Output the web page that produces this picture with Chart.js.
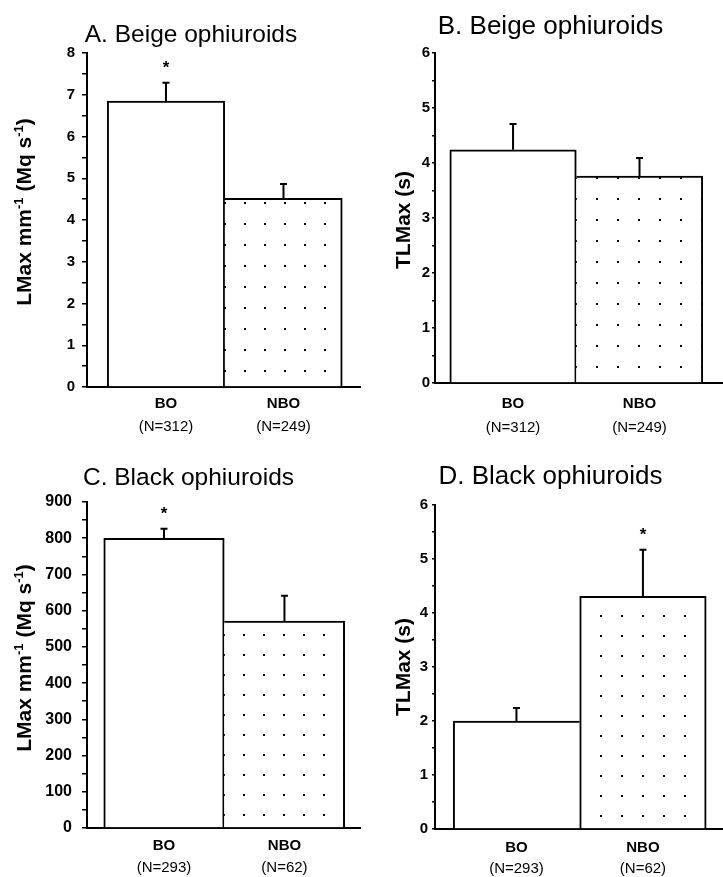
<!DOCTYPE html>
<html>
<head>
<meta charset="utf-8">
<script src="https://cdn.jsdelivr.net/npm/chart.js@4.4.1/dist/chart.umd.min.js"></script>
<style>
html,body{margin:0;padding:0;background:#fff;}
#wrap{position:relative;width:723px;height:877px;overflow:hidden;background:#fff;}
canvas{position:absolute;left:0;top:0;}
</style>
</head>
<body>
<div id="wrap">
<canvas id="cA" width="723" height="877"></canvas>
<canvas id="cB" width="723" height="877"></canvas>
<canvas id="cC" width="723" height="877"></canvas>
<canvas id="cD" width="723" height="877"></canvas>
</div>
<script>
// ---------------- DATA ----------------
const categories = ['BO', 'NBO'];

const sampleSizesA = ['(N=312)', '(N=249)'];
const sampleSizesB = ['(N=312)', '(N=249)'];
const sampleSizesC = ['(N=293)', '(N=62)'];
const sampleSizesD = ['(N=293)', '(N=62)'];

const valuesA = [6.85, 4.52];
const errorsA = [0.44, 0.34];
const starsA  = [true, false];

const valuesB = [4.24, 3.76];
const errorsB = [0.47, 0.33];
const starsB  = [false, false];

const valuesC = [800, 571];
const errorsC = [26, 70];
const starsC  = [true, false];

const valuesD = [2.0, 4.31];
const errorsD = [0.24, 0.86];
const starsD  = [false, true];

const yTicksA = [0, 1, 2, 3, 4, 5, 6, 7, 8];
const yTicksB = [0, 1, 2, 3, 4, 5, 6];
const yTicksC = [0, 100, 200, 300, 400, 500, 600, 700, 800, 900];
const yTicksD = [0, 1, 2, 3, 4, 5, 6];

const titleA = 'A. Beige ophiuroids';
const titleB = 'B. Beige ophiuroids';
const titleC = 'C. Black ophiuroids';
const titleD = 'D. Black ophiuroids';

// y-axis titles as [text, isSuperscript] segments
const yTitleLMax = [['LMax mm', 0], ['-1', 1], [' (Mq s', 0], ['-1', 1], [')', 0]];
const yTitleTLMax = [['TLMax (s)', 0]];

// ---------------- RENDERING ----------------
const F = "'Liberation Sans', Arial, Helvetica, sans-serif";
Chart.defaults.color = '#000';

function makePattern(ctx, w, h) {
  const t = document.createElement('canvas');
  t.width = w; t.height = h;
  const g = t.getContext('2d');
  g.fillStyle = '#fff'; g.fillRect(0, 0, w, h);
  g.fillStyle = '#000'; g.fillRect(0, 0, 2, 2);
  return ctx.createPattern(t, 'repeat');
}

function makeChart(id, p) {
  const canvas = document.getElementById(id);
  const ctx = canvas.getContext('2d');
  const pattern = makePattern(ctx, p.tileW, p.tileH);
  const yMin = p.yTicks[0];
  const yMax = p.yTicks[p.yTicks.length - 1];
  const yStep = p.yTicks[1] - p.yTicks[0];
  const h1 = 25;
  const h2 = Math.min(30, 877 - p.bottom - h1);

  const annot = {
    id: 'annot',
    beforeDatasetsDraw(chart) {
      const bar = chart.getDatasetMeta(0).data[1];
      const left = Math.round(bar.x - bar.width / 2);
      pattern.setTransform(new DOMMatrix([1, 0, 0, 1, left - 1, Math.round(bar.base - p.rowOff) - 1]));
    },
    afterDatasetsDraw(chart) {
      const c = chart.ctx, ys = chart.scales.y;
      const meta = chart.getDatasetMeta(0);
      c.save();
      c.strokeStyle = '#000'; c.fillStyle = '#000'; c.lineWidth = 2;
      meta.data.forEach((bar, i) => {
        const top = ys.getPixelForValue(p.values[i] + p.errors[i]);
        c.beginPath();
        c.moveTo(bar.x, bar.y); c.lineTo(bar.x, top);
        c.moveTo(bar.x - 3.5, top); c.lineTo(bar.x + 3.5, top);
        c.stroke();
        if (p.stars[i]) {
          c.font = 'bold 17px ' + F;
          c.textAlign = 'center'; c.textBaseline = 'alphabetic';
          c.fillText('*', bar.x, top - 10);
        }
      });
      c.restore();
    },
    afterDraw(chart) {
      const c = chart.ctx;
      c.save();
      c.fillStyle = '#000';
      c.font = p.titleSize + 'px ' + F;
      c.textAlign = 'center'; c.textBaseline = 'alphabetic';
      c.fillText(p.title, p.titleX, p.titleY);
      // rotated y title
      c.translate(p.yTitleBase, p.yTitleCenter);
      c.rotate(-Math.PI / 2);
      c.textAlign = 'left';
      const big = 'bold 21px ' + F, small = 'bold 13px ' + F;
      let total = 0;
      p.yTitle.forEach(([t, s]) => { c.font = s ? small : big; total += c.measureText(t).width; });
      let x = -total / 2;
      p.yTitle.forEach(([t, s]) => {
        c.font = s ? small : big;
        c.fillText(t, x, s ? -8 : 0);
        x += c.measureText(t).width;
      });
      c.restore();
    }
  };

  const pts = p.values.map((v, i) => ({ x: i + 1, y: v }));
  const catTicks = (s) => { s.ticks = categories.map((_, i) => ({ value: i + 1 })); };

  return new Chart(ctx, {
    type: 'bar',
    data: {
      datasets: [{
        data: pts,
        backgroundColor: ['#ffffff', pattern],
        borderColor: '#000',
        borderWidth: (cx) => {
          const i = cx.dataIndex;
          const taller = p.values[i] >= p.values[1 - i];
          return i === 0
            ? { top: 2, left: 2, bottom: 0, right: taller ? 2 : 0 }
            : { top: 2, right: 2, bottom: 0, left: taller ? 2 : 0 };
        },
        borderSkipped: 'start',
        barThickness: 'flex',
        categoryPercentage: 1,
        barPercentage: 1
      }]
    },
    options: {
      responsive: false,
      animation: false,
      events: [],
      layout: { padding: { left: p.left, top: p.top, right: 723 - p.right, bottom: 877 - p.bottom - h1 - h2 } },
      plugins: { legend: { display: false }, tooltip: { enabled: false }, title: { display: false } },
      scales: {
        x: {
          type: 'linear', position: 'bottom', weight: 0, offset: false,
          min: p.xMin, max: p.xMax,
          grid: { display: false, drawTicks: false, offset: false },
          border: { display: true, color: '#000', width: 2 },
          ticks: {
            font: { family: F, size: 15, weight: 'bold' }, color: '#000',
            padding: p.p1, maxRotation: 0, autoSkip: false,
            callback: (v) => categories[v - 1] ?? ''
          },
          afterBuildTicks: catTicks,
          afterFit: (s) => { s.height = h1; }
        },
        x2: {
          type: 'linear', position: 'bottom', weight: 1, offset: false,
          min: p.xMin, max: p.xMax,
          grid: { display: false, drawTicks: false, offset: false },
          border: { display: false },
          ticks: {
            font: { family: F, size: 15 }, color: '#000',
            padding: p.p2, maxRotation: 0, autoSkip: false,
            callback: (v) => p.nLabels[v - 1] ?? ''
          },
          afterBuildTicks: catTicks,
          afterFit: (s) => { s.height = h2; }
        },
        y: {
          type: 'linear', min: yMin, max: yMax,
          ticks: {
            font: { family: F, size: p.tickFont, weight: 'bold' }, color: '#000',
            padding: p.tickPad, autoSkip: false, maxTicksLimit: 100,
            callback: (v) => p.yTicks.includes(v) ? String(v) : ''
          },
          afterBuildTicks: (s) => {
            const arr = [];
            p.yTicks.forEach((v, i) => {
              arr.push({ value: v });
              if (i < p.yTicks.length - 1) arr.push({ value: v + yStep / 2 });
            });
            s.ticks = arr;
          },
          grid: { drawOnChartArea: false, drawTicks: true, tickLength: p.tickLen, color: '#000', lineWidth: 1.5 },
          border: { display: true, color: '#000', width: 2 },
          afterFit: (s) => { s.width = p.axisX - p.left; }
        }
      }
    },
    plugins: [annot]
  });
}

makeChart('cA', {
  values: valuesA, errors: errorsA, stars: starsA, nLabels: sampleSizesA, yTicks: yTicksA,
  title: titleA, titleSize: 24.5, titleX: 191, titleY: 41.5,
  yTitle: yTitleLMax, yTitleBase: 31, yTitleCenter: 212,
  left: 0, axisX: 87, right: 360, top: 53, bottom: 387,
  xMin: 0.328, xMax: 2.651, tickLen: 5, tickPad: 7, tickFont: 15, p1: 7.5, p2: 5.5,
  tileW: 20, tileH: 21, rowOff: 15
});
makeChart('cB', {
  values: valuesB, errors: errorsB, stars: starsB, nLabels: sampleSizesB, yTicks: yTicksB,
  title: titleB, titleSize: 26, titleX: 550.5, titleY: 34,
  yTitle: yTitleTLMax, yTitleBase: 409.5, yTitleCenter: 220,
  left: 362, axisX: 435, right: 723, top: 53, bottom: 383,
  xMin: 0.383, xMax: 2.66, tickLen: 3, tickPad: 2, tickFont: 15, p1: 12, p2: 11,
  tileW: 21, tileH: 21, rowOff: 15
});
makeChart('cC', {
  values: valuesC, errors: errorsC, stars: starsC, nLabels: sampleSizesC, yTicks: yTicksC,
  title: titleC, titleSize: 24.5, titleX: 188.5, titleY: 485,
  yTitle: yTitleLMax, yTitleBase: 31, yTitleCenter: 658,
  left: 0, axisX: 87, right: 360, top: 502, bottom: 828,
  xMin: 0.361, xMax: 2.627, tickLen: 5, tickPad: 10, tickFont: 16, p1: 9, p2: 6,
  tileW: 20, tileH: 20, rowOff: 12
});
makeChart('cD', {
  values: valuesD, errors: errorsD, stars: starsD, nLabels: sampleSizesD, yTicks: yTicksD,
  title: titleD, titleSize: 26, titleX: 550.5, titleY: 483.5,
  yTitle: yTitleTLMax, yTitleBase: 410, yTitleCenter: 667,
  left: 362, axisX: 435, right: 723, top: 505, bottom: 829,
  xMin: 0.356, xMax: 2.633, tickLen: 3, tickPad: 4, tickFont: 15, p1: 9.5, p2: 5.5,
  tileW: 21, tileH: 20, rowOff: 12
});
</script>
</body>
</html>
